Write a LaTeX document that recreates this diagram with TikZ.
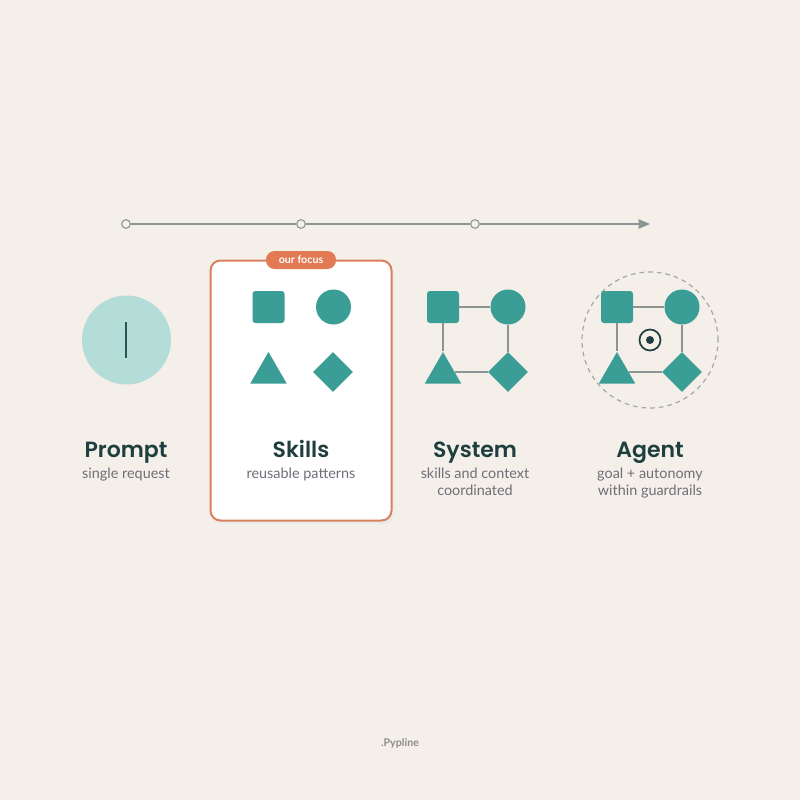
\documentclass[tikz,border=0pt]{standalone}
\usepackage{fontspec}
\setmainfont{Lato}
\newfontfamily\titlefont{Poppins SemiBold}
\usetikzlibrary{shapes.geometric,arrows.meta}
\definecolor{bg}{HTML}{F4EFE9}
\definecolor{teal}{HTML}{3A9E96}
\definecolor{lteal}{HTML}{B5DDD8}
\definecolor{dteal}{HTML}{1F3F3F}
\definecolor{gline}{HTML}{8C9494}
\definecolor{orng}{HTML}{D9805F}
\definecolor{pill}{HTML}{E27A53}
\definecolor{subg}{HTML}{6E6E78}
\tikzset{
  sq/.style={rectangle,fill=teal,minimum width=32*0.75pt,minimum height=32*0.75pt,inner sep=0pt,rounded corners=2.2pt},
  ci/.style={circle,fill=teal,minimum size=35*0.75pt,inner sep=0pt},
  tri/.style={regular polygon,regular polygon sides=3,fill=teal,minimum size=42*0.75pt,inner sep=0pt},
  dia/.style={diamond,fill=teal,minimum width=40*0.75pt,minimum height=40*0.75pt,inner sep=0pt},
  link/.style={draw=gline,line width=1.1pt},
  title/.style={font=\titlefont\fontsize{16.5}{18}\selectfont,text=dteal,anchor=base},
  sub/.style={font=\fontsize{10.8}{12.75}\selectfont,text=subg,anchor=north,align=center,inner sep=0pt},
  tdot/.style={circle,draw=gline,fill=bg,line width=0.8pt,minimum size=6.5pt,inner sep=0pt}
}
\begin{document}
\begin{tikzpicture}[x=0.75pt,y=-0.75pt]
\fill[bg] (0,0) rectangle (800,800);
\useasboundingbox (0,0) rectangle (800,800);
% timeline
\node[tdot] (t1) at (126,224) {};
\node[tdot] (t2) at (301,224) {};
\node[tdot] (t3) at (475,224) {};
\coordinate (t4) at (650,224);
\draw[gline,line width=0.9pt] (t1) -- (t2);
\draw[gline,line width=0.9pt] (t2) -- (t3);
\draw[gline,line width=0.9pt,-{Triangle[length=8.5pt,width=7pt]}] (t3) -- (t4);
% prompt
\node[circle,fill=lteal,minimum size=89*0.75pt,inner sep=0pt] (pc) at (126.5,340) {};
\coordinate (pl1) at (126,322);
\coordinate (pl2) at (126,358);
\draw[dteal!75!teal,line width=2.2pt] (pl1) -- (pl2);
% skills card
\fill[black!8,rounded corners=7.5pt] (213,263) rectangle (394,524);
\node[draw=orng,fill=white,line width=1.5pt,rounded corners=7.5pt,minimum width=181*0.75pt,minimum height=260*0.75pt,inner sep=0pt] (card) at (301,390.5) {};
\node[fill=pill,rounded corners=6.5pt,minimum width=70*0.75pt,minimum height=18*0.75pt,inner sep=0pt,text=white,font=\fontsize{8}{9}\selectfont\bfseries] (tag) at (301,260) {our focus};
\node[sq] (s1) at (268.5,307) {};
\node[ci] (s2) at (333.5,307) {};
\node[tri] (s3) at (268.5,373) {};
\node[dia] (s4) at (333,372) {};
% system
\node[sq] (y1) at (443,307) {};
\node[ci] (y2) at (508,307) {};
\node[tri] (y3) at (443,373) {};
\node[dia] (y4) at (508,372) {};
\draw[link] (y1) -- (y2);
\draw[link] (y1) -- (y3);
\draw[link] (y2) -- (y4);
\draw[link] (y3.east |- y4) -- (y4);
% agent
\node[circle,draw=gline!80,dashed,dash pattern=on 3.5pt off 3pt,line width=0.9pt,minimum size=136*0.75pt,inner sep=0pt] (ring) at (650,340) {};
\node[sq] (a1) at (617,307) {};
\node[ci] (a2) at (682,307) {};
\node[tri] (a3) at (617,373) {};
\node[dia] (a4) at (682,372) {};
\draw[link] (a1) -- (a2);
\draw[link] (a1) -- (a3);
\draw[link] (a2) -- (a4);
\draw[link] (a3.east |- a4) -- (a4);
\node[circle,draw=dteal,line width=1.3pt,minimum size=21*0.75pt,inner sep=0pt] (tg) at (650,340) {};
\node[circle,fill=dteal,minimum size=8*0.75pt,inner sep=0pt] (tgd) at (650,340) {};
% labels
\node[title] (l1) at (126,457) {Prompt};
\node[title] (l2) at (301,457) {Skills};
\node[title] (l3) at (475,457) {System};
\node[title] (l4) at (650,457) {Agent};
\node[sub] (d1) at (126,468) {single request};
\node[sub] (d2) at (301,468) {reusable patterns};
\node[sub] (d3) at (475,468) {skills and context\\coordinated};
\node[sub] (d4) at (650,468) {goal + autonomy\\within guardrails};
\node[font=\fontsize{8}{9}\selectfont\bfseries,text=black!45] (brand) at (400,743) {.Pypline};
\end{tikzpicture}
\end{document}
